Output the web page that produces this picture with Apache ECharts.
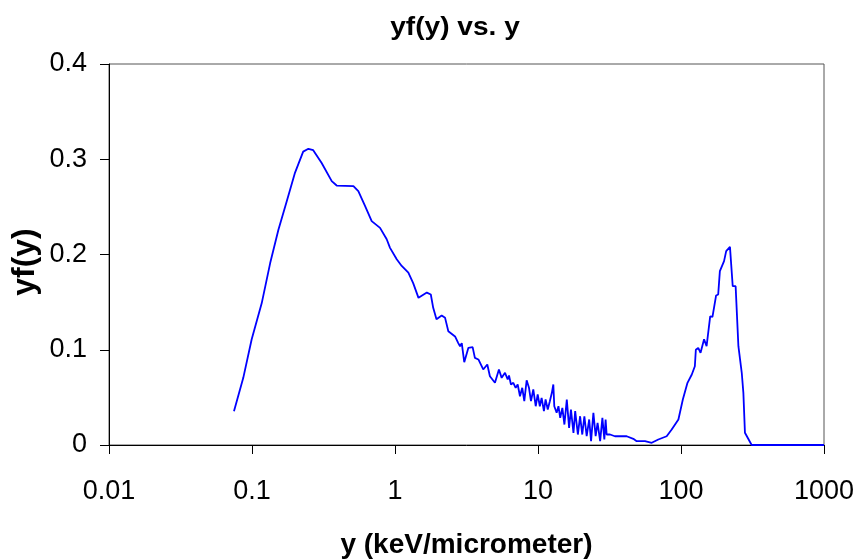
<!DOCTYPE html>
<html>
<head>
<meta charset="utf-8">
<script src="https://cdn.jsdelivr.net/npm/echarts@6/dist/echarts.min.js"></script>
<style>html,body{margin:0;padding:0;background:#fff}#c{width:860px;height:560px}</style>
</head>
<body>
<div id="c"></div>
<script>
var xValues = [0.0748,0.0869,0.0995,0.117,0.134,0.153,0.175,0.200,0.228,0.248,0.268,0.307,0.361,0.391,0.512,0.554,0.617,0.687,0.786,0.875,0.923,1.028,1.114,1.24,1.34,1.46,1.67,1.78,1.85,1.95,2.12,2.24,2.36,2.63,2.77,2.85,2.93,3.05,3.26,3.49,3.62,3.83,3.93,4.14,4.42,4.61,5.00,5.33,5.57,
  5.88,6.14,6.27,6.47,6.72,6.98,7.21,7.48,7.76,8.02,8.33,8.65,8.93,9.27,9.64,9.95,10.3,10.6,11.0,11.3,11.7,12.1,12.5,12.8,13.0,13.5,13.9,14.3,14.8,15.3,15.9,16.5,17.0,17.7,18.2,19.0,19.7,20.4,21.1,21.9,22.8,23.5,24.4,25.3,26.1,27.2,28.2,29.1,29.7,30.2,31.9,34.5,
  37.4,41.7,46.4,49.0,56.0,62.4,69.4,79.4,86.1,95.9,103,111,119,125,127,132,137,145,151,160,166,176,182,187,200,207,220,230,241,252,266,273,280,312,1000];
var yValues = [0.0355,0.0705,0.111,0.149,0.191,0.226,0.256,0.286,0.308,0.311,0.3095,0.296,0.277,0.2724,0.2717,0.2665,0.251,0.235,0.228,0.216,0.207,0.195,0.188,0.181,0.170,0.1545,0.160,0.158,0.144,0.132,0.136,0.1335,0.1195,0.114,0.107,0.1037,0.107,0.087,0.102,0.1027,0.0915,0.0898,0.0915,0.0793,0.0845,0.0722,0.0653,0.0793,0.0705,
  0.0758,0.0688,0.073,0.0635,0.0653,0.060,0.0635,0.0512,0.060,0.046,0.068,0.060,0.046,0.0583,0.0407,0.053,0.0407,0.0495,0.0355,0.0478,0.0373,0.046,0.0548,0.0635,0.0407,0.0338,0.0407,0.0285,0.039,0.0215,0.0478,0.018,0.0373,0.0128,0.0355,0.011,0.0302,0.011,0.0302,0.0092,0.0268,0.004,0.0338,0.0092,0.0233,0.004,0.0285,0.0058,0.0268,0.011,0.011,0.0092,
  0.0092,0.0092,0.0065,0.004,0.004,0.0023,0.0058,0.0092,0.0163,0.0268,0.0478,0.0653,0.074,0.0827,0.100,0.102,0.0968,0.111,0.1037,0.135,0.1345,0.157,0.158,0.1825,0.193,0.2035,0.208,0.1667,0.1667,0.1037,0.0758,0.0548,0.0128,0,0];
var xTickLabels = ['0.01','0.1','1','10','100','1000'];
var yTickLabels = ['0','0.1','0.2','0.3','0.4'];

var seriesData = xValues.map(function (x, i) { return [x, yValues[i]]; });
var FONT = '"Liberation Sans", Arial, Helvetica, sans-serif';

var chart = echarts.init(document.getElementById('c'), null, {renderer: 'canvas'});
chart.setOption({
  animation: false,
  backgroundColor: '#fff',
  graphic: [{
    type: 'text',
    x: 455,
    y: 28,
    scaleX: 1.08,
    style: {
      text: 'yf(y) vs. y',
      fontFamily: FONT,
      fontSize: 26,
      fontWeight: 'bold',
      fill: '#000',
      textAlign: 'center',
      textVerticalAlign: 'middle'
    }
  }, {
    type: 'text',
    x: 25,
    y: 262,
    rotation: Math.PI / 2,
    style: {
      text: 'yf(y)',
      fontFamily: FONT,
      fontSize: 32,
      fontWeight: 'bold',
      fill: '#000',
      textAlign: 'center',
      textVerticalAlign: 'middle'
    }
  }],
  grid: {left: 109, right: 36, top: 64, bottom: 115, show: true, borderColor: '#555', borderWidth: 1, containLabel: false, outerBoundsMode: 'none'},
  xAxis: {
    type: 'log',
    logBase: 10,
    min: 0.01,
    max: 1000,
    name: 'y (keV/micrometer)',
    nameLocation: 'middle',
    nameGap: 86,
    nameTextStyle: {fontFamily: FONT, fontSize: 28, fontWeight: 'bold', color: '#000'},
    axisLine: {lineStyle: {color: '#000', width: 1}},
    axisTick: {show: true, inside: false, length: 9, lineStyle: {color: '#000'}},
    minorTick: {show: false},
    splitLine: {show: false},
    axisLabel: {
      margin: 33,
      fontFamily: FONT, fontSize: 27, color: '#000',
      formatter: function (v) {
        var idx = Math.round(Math.log10(v)) + 2;
        return xTickLabels[idx] !== undefined ? xTickLabels[idx] : '';
      }
    }
  },
  yAxis: {
    type: 'value',
    min: 0,
    max: 0.4,
    interval: 0.1,
    axisLine: {show: true, lineStyle: {color: '#000', width: 1}},
    axisTick: {show: true, inside: false, length: 9, lineStyle: {color: '#000'}},
    splitLine: {show: false},
    axisLabel: {
      margin: 22,
      fontFamily: FONT, fontSize: 27, color: '#000',
      formatter: function (v) {
        var idx = Math.round(v * 10);
        return yTickLabels[idx] !== undefined ? yTickLabels[idx] : '';
      }
    }
  },
  series: [{
    type: 'line',
    data: seriesData,
    showSymbol: false,
    symbol: 'none',
    smooth: false,
    lineStyle: {color: '#0000FF', width: 1.8},
    itemStyle: {color: '#0000FF'}
  }]
});
</script>
</body>
</html>
